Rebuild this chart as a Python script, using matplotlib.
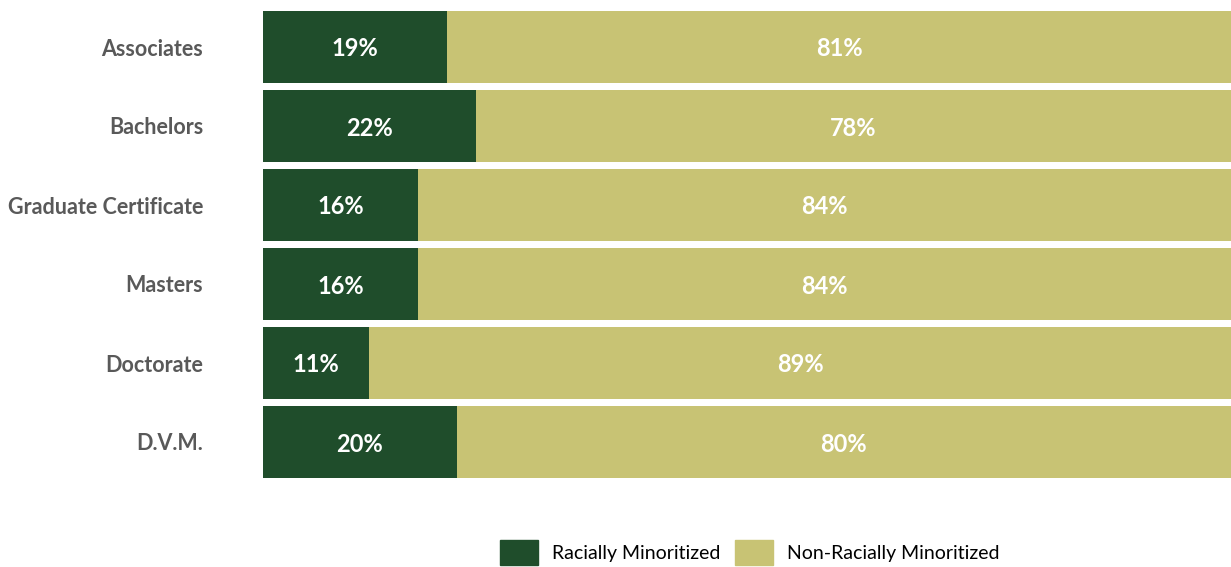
import numpy as np
import matplotlib.pyplot as plt
from matplotlib.patches import Patch

plt.rcParams['font.family'] = ['Lato', 'DejaVu Sans']

degrees = ['Associates', 'Bachelors', 'Graduate Certificate', 'Masters', 'Doctorate', 'D.V.M.']
minoritized = [19, 22, 16, 16, 11, 20]
non_minoritized = [81, 78, 84, 84, 89, 80]

green = '#1f4d2b'
gold = '#c8c374'

fig = plt.figure(figsize=(12.31, 5.67), dpi=100)
ax = fig.add_axes([263 / 1231, 1 - 481.5 / 567, 1 - 263 / 1231, 474 / 567])

y = np.arange(len(degrees))
ax.barh(y, minoritized, height=0.91, color=green)
ax.barh(y, non_minoritized, left=minoritized, height=0.91, color=gold)

for i in range(len(degrees)):
    ax.text(minoritized[i] / 2, y[i], f'{minoritized[i]}%', ha='center', va='center_baseline',
            color='white', fontsize=17, fontweight='bold')
    ax.text(minoritized[i] + non_minoritized[i] / 2, y[i], f'{non_minoritized[i]}%',
            ha='center', va='center_baseline', color='white', fontsize=17, fontweight='bold')

ax.set_xlim(0, 100)
ax.set_ylim(len(degrees) - 0.5, -0.5)
ax.set_yticks(y)
ax.set_yticklabels(degrees, fontsize=15.5, fontweight='bold', color='#595959')
ax.tick_params(axis='y', length=0, pad=43)
ax.set_xticks([])
for s in ax.spines.values():
    s.set_visible(False)

handles = [Patch(color=green, label='Racially Minoritized'),
           Patch(color=gold, label='Non-Racially Minoritized')]
fig.legend(handles=handles, loc='center', bbox_to_anchor=(0.609, 0.025), ncol=2,
           frameon=False, fontsize=14, handlelength=1.95, handleheight=1.6,
           columnspacing=0.77, handletextpad=0.72, borderpad=0, borderaxespad=0)

fig.savefig('out.png', dpi=100)
